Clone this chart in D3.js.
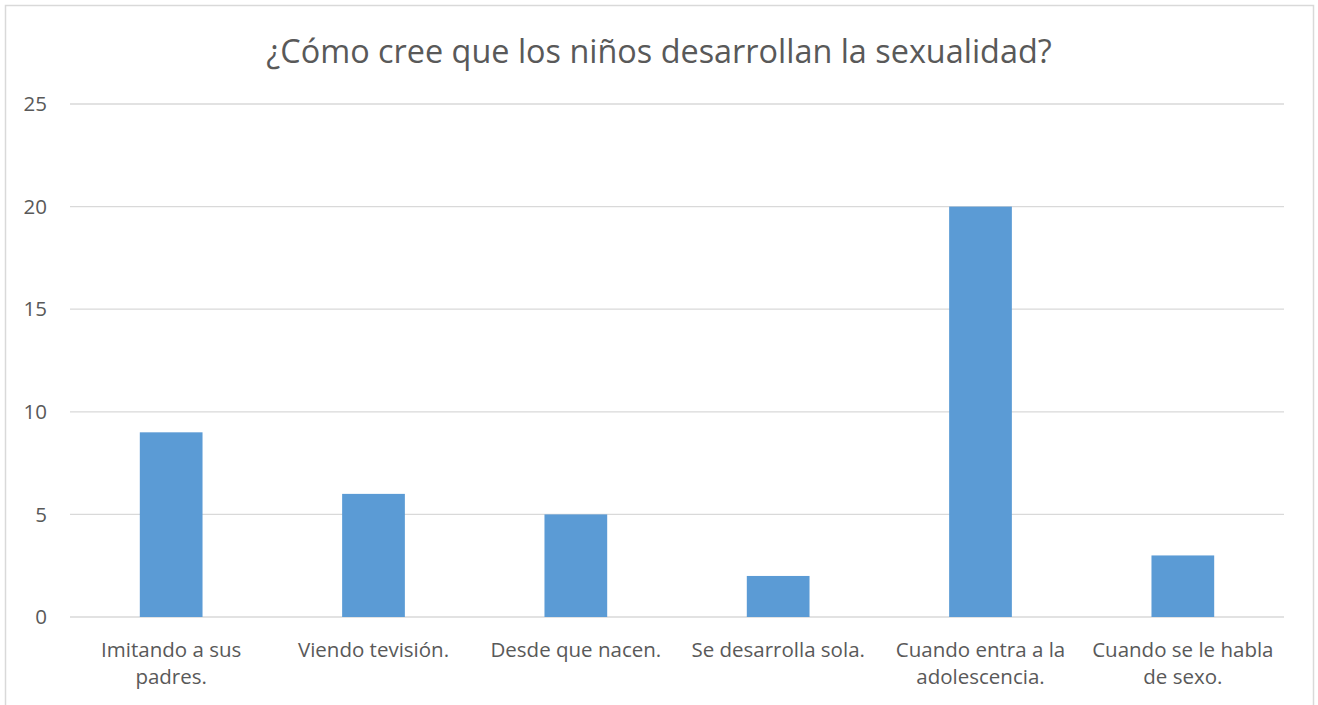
<!DOCTYPE html>
<html>
<head>
<meta charset="utf-8">
<script src="https://cdn.jsdelivr.net/npm/d3@7"></script>
<style>
  body { margin: 0; background: #fff; }
  svg text { font-family: "Open Sans", "Noto Sans", sans-serif; fill: #595959; }
</style>
</head>
<body>
<div id="chart"></div>
<script>
  const categories = [
    "Imitando a sus\npadres.",
    "Viendo tevisión.",
    "Desde que nacen.",
    "Se desarrolla sola.",
    "Cuando entra a la\nadolescencia.",
    "Cuando se le habla\nde sexo."
  ];
  const values = [9, 6, 5, 2, 20, 3];
  const yTicks = [0, 5, 10, 15, 20, 25];
  const title = "¿Cómo cree que los niños desarrollan la sexualidad?";

  const W = 1318, H = 705;
  const margin = {top: 104, right: 34, bottom: 88, left: 70};
  const width = W - margin.left - margin.right;
  const height = H - margin.top - margin.bottom;

  const svg = d3.select("#chart").append("svg")
    .attr("width", W)
    .attr("height", H);

  // chart area border
  svg.append("rect")
    .attr("x", 5.5).attr("y", 5.5)
    .attr("width", 1308).attr("height", 720)
    .attr("fill", "none")
    .attr("stroke", "#d9d9d9")
    .attr("stroke-width", 1.5);

  svg.append("text")
    .attr("x", 659).attr("y", 63)
    .attr("text-anchor", "middle")
    .style("font-size", "32.4px")
    .text(title);

  const g = svg.append("g")
    .attr("transform", "translate(" + margin.left + "," + margin.top + ")");

  const x = d3.scaleBand().domain(categories).range([0, width]).paddingInner(0.69).paddingOuter(0.345);
  const y = d3.scaleLinear().domain([0, 25]).range([height, 0]);

  // gridlines
  g.append("g").selectAll("line")
    .data(yTicks)
    .enter().append("line")
    .attr("x1", 0).attr("x2", width)
    .attr("y1", d => y(d)).attr("y2", d => y(d))
    .attr("stroke", "#d9d9d9")
    .attr("stroke-width", 1.3);

  // y labels
  g.append("g").selectAll("text")
    .data(yTicks)
    .enter().append("text")
    .attr("x", -23)
    .attr("y", d => y(d))
    .attr("dy", "0.35em")
    .attr("text-anchor", "end")
    .style("font-size", "20.5px")
    .text(d => d);

  // bars
  g.append("g").selectAll("rect")
    .data(values)
    .enter().append("rect")
    .attr("x", (d, i) => x(categories[i]))
    .attr("width", x.bandwidth())
    .attr("y", d => y(d))
    .attr("height", d => height - y(d))
    .attr("fill", "#5b9bd5");

  // category labels
  const lbl = g.append("g").selectAll("text")
    .data(categories)
    .enter().append("text")
    .attr("x", d => x(d) + x.bandwidth() / 2)
    .attr("y", height + 40)
    .attr("text-anchor", "middle")
    .style("font-size", "20.5px");
  lbl.each(function(d) {
    const lines = d.split("\n");
    d3.select(this).selectAll("tspan")
      .data(lines)
      .enter().append("tspan")
      .attr("x", x(d) + x.bandwidth() / 2)
      .attr("dy", (l, i) => i === 0 ? 0 : 27)
      .text(l => l);
  });
</script>
</body>
</html>
